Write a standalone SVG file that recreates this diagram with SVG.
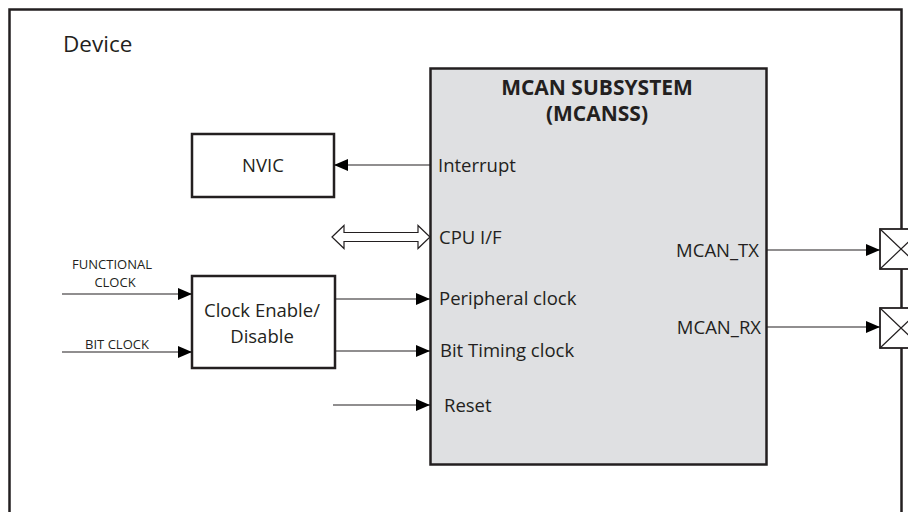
<svg xmlns="http://www.w3.org/2000/svg" width="908" height="512" viewBox="0 0 908 512">
<defs>
<style>
text{font-family:"Open Sans","Liberation Sans",sans-serif;fill:#231f20}
.lbl{font-size:18.5px}
.sm{font-size:13px}
.bold{font-weight:bold;font-size:21px}
.box{fill:#fff;stroke:#231f20;stroke-width:2.5}
.ln{stroke:#231f20;stroke-width:1.2;fill:none}
</style>
<marker id="ah" markerWidth="14" markerHeight="12" viewBox="0 0 14 12" refX="14" refY="6" orient="auto" markerUnits="userSpaceOnUse">
<path d="M0,0 L14,6 L0,12 Z" fill="#000"/>
</marker>
</defs>
<rect width="908" height="512" fill="#fff"/>
<g id="device">
<rect x="9.5" y="9.5" width="892" height="520" fill="none" stroke="#231f20" stroke-width="2.5"/>
<text x="63" y="52" style="font-size:22.5px">Device</text>
</g>
<g id="mcanss">
<rect x="430.5" y="68.5" width="336" height="396" fill="#dfe0e2" stroke="#231f20" stroke-width="2.5"/>
<text class="bold" x="597" y="95" text-anchor="middle">MCAN SUBSYSTEM</text>
<text class="bold" x="597" y="121" text-anchor="middle">(MCANSS)</text>
<text class="lbl" x="438" y="172">Interrupt</text>
<text class="lbl" x="439" y="244">CPU I/F</text>
<text class="lbl" x="439" y="305">Peripheral clock</text>
<text class="lbl" x="440" y="357">Bit Timing clock</text>
<text class="lbl" x="444" y="412">Reset</text>
<text class="lbl" x="759" y="257" text-anchor="end">MCAN_TX</text>
<text class="lbl" x="761" y="334" text-anchor="end">MCAN_RX</text>
</g>
<g id="nvic">
<rect class="box" x="192" y="134" width="142" height="63"/>
<text class="lbl" x="263" y="172" text-anchor="middle">NVIC</text>
</g>
<g id="clock">
<rect class="box" x="192" y="276" width="143" height="92"/>
<text class="lbl" x="262" y="317" text-anchor="middle">Clock Enable/</text>
<text class="lbl" x="262" y="343" text-anchor="middle">Disable</text>
</g>
<g id="pad-tx">
<rect x="880" y="229" width="42" height="40" fill="#fff" stroke="#231f20" stroke-width="1.8"/>
<path class="ln" d="M880,229 L922,269 M880,269 L922,229"/>
</g>
<g id="pad-rx">
<rect x="880" y="308" width="42" height="40" fill="#fff" stroke="#231f20" stroke-width="1.8"/>
<path class="ln" d="M880,308 L922,348 M880,348 L922,308"/>
</g>
<g id="inputs">
<text class="sm" x="112" y="269" text-anchor="middle">FUNCTIONAL</text>
<text class="sm" x="115" y="287" text-anchor="middle">CLOCK</text>
<text class="sm" x="117" y="349" text-anchor="middle">BIT CLOCK</text>
</g>
<g id="connectors">
<line class="ln" x1="430" y1="165" x2="334" y2="165" marker-end="url(#ah)"/>
<path d="M332,237 L344,225.5 L344,232.5 L418,232.5 L418,225.5 L430,237 L418,248.5 L418,241.5 L344,241.5 L344,248.5 Z" fill="#fff" stroke="#231f20" stroke-width="1.2"/>
<line class="ln" x1="62" y1="294" x2="192" y2="294" marker-end="url(#ah)"/>
<line class="ln" x1="62" y1="352" x2="192" y2="352" marker-end="url(#ah)"/>
<line class="ln" x1="335" y1="299" x2="430" y2="299" marker-end="url(#ah)"/>
<line class="ln" x1="335" y1="351" x2="430" y2="351" marker-end="url(#ah)"/>
<line class="ln" x1="333" y1="405" x2="430" y2="405" marker-end="url(#ah)"/>
<line class="ln" x1="767" y1="250" x2="880" y2="250" marker-end="url(#ah)"/>
<line class="ln" x1="767" y1="327" x2="880" y2="327" marker-end="url(#ah)"/>
</g>
</svg>
